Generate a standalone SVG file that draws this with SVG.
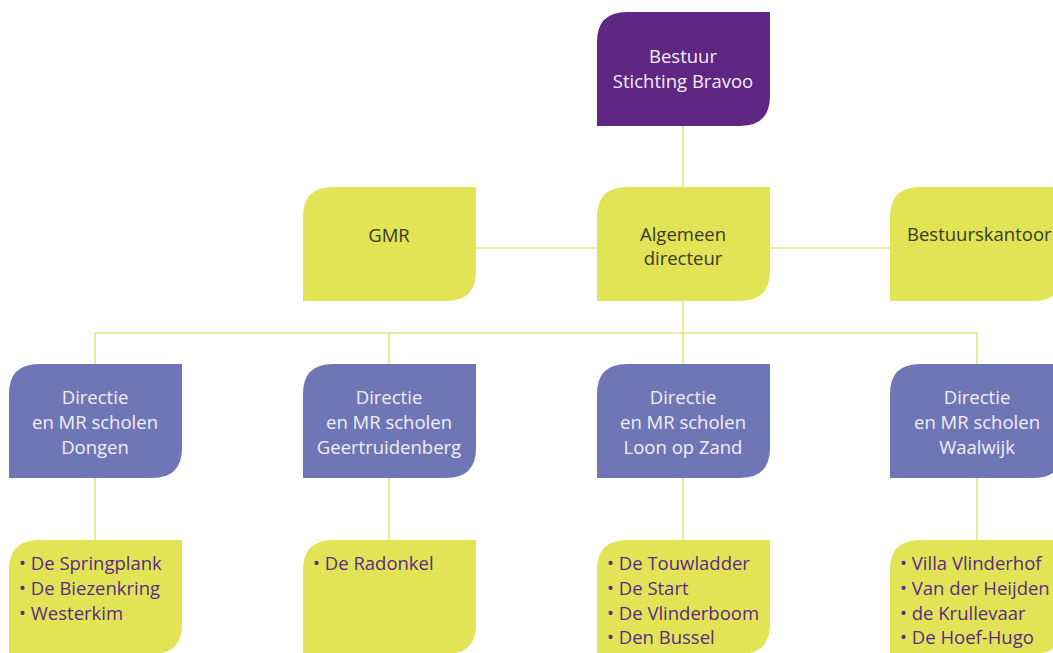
<svg xmlns="http://www.w3.org/2000/svg" width="1053" height="653" viewBox="0 0 1053 653">
<style>
.lime{fill:#e0e455}
.purple{fill:#5f2683}
.blue{fill:#6e76b6}
.conn line{stroke:#e4e67c;stroke-width:1.6}
text{font-family:"Open Sans","Noto Sans",sans-serif;font-size:18.5px}
.c{text-anchor:middle}
.w{fill:#f2eef6}
.d{fill:#3a3a28}
.l{fill:#5b2a86}
</style>
<defs>
<path id="box" d="M0,114 V30 Q0,0 30,0 H173 V84 Q173,114 143,114 Z"/>
</defs>
<rect width="1053" height="653" fill="#fff"/>
<g class="conn">
<line x1="683" y1="126" x2="683" y2="187"/>
<line x1="475" y1="248" x2="597" y2="248"/>
<line x1="770" y1="248" x2="890" y2="248"/>
<line x1="683" y1="301" x2="683" y2="364"/>
<line x1="95" y1="333" x2="977" y2="333"/>
<line x1="95" y1="333" x2="95" y2="364"/>
<line x1="389" y1="333" x2="389" y2="364"/>
<line x1="977" y1="333" x2="977" y2="364"/>
<line x1="95" y1="478" x2="95" y2="540"/>
<line x1="389" y1="478" x2="389" y2="540"/>
<line x1="683" y1="478" x2="683" y2="540"/>
<line x1="977" y1="478" x2="977" y2="540"/>
</g>
<g id="bestuur"><use href="#box" x="597" y="12" class="purple"/>
<text class="c w" x="683" y="63">Bestuur</text><text class="c w" x="683" y="88">Stichting Bravoo</text></g>
<g id="gmr"><use href="#box" x="303" y="187" class="lime"/>
<text class="c d" x="389" y="242">GMR</text></g>
<g id="algemeen"><use href="#box" x="597" y="187" class="lime"/>
<text class="c d" x="683" y="241">Algemeen</text><text class="c d" x="683" y="265">directeur</text></g>
<g id="bestuurskantoor"><use href="#box" x="890" y="187" class="lime"/>
<text class="d" x="907" y="241">Bestuurskantoor</text></g>
<g id="dir-dongen"><use href="#box" x="9" y="364" class="blue"/>
<text class="c w" x="95" y="404">Directie</text><text class="c w" x="95" y="429">en MR scholen</text><text class="c w" x="95" y="454">Dongen</text></g>
<g id="dir-geertruidenberg"><use href="#box" x="303" y="364" class="blue"/>
<text class="c w" x="389" y="404">Directie</text><text class="c w" x="389" y="429">en MR scholen</text><text class="c w" x="389" y="454">Geertruidenberg</text></g>
<g id="dir-loon"><use href="#box" x="597" y="364" class="blue"/>
<text class="c w" x="683" y="404">Directie</text><text class="c w" x="683" y="429">en MR scholen</text><text class="c w" x="683" y="454">Loon op Zand</text></g>
<g id="dir-waalwijk"><use href="#box" x="890" y="364" class="blue"/>
<text class="c w" x="977" y="404">Directie</text><text class="c w" x="977" y="429">en MR scholen</text><text class="c w" x="977" y="454">Waalwijk</text></g>
<g id="scholen-dongen"><use href="#box" x="9" y="540" class="lime"/>
<text class="l" x="19" y="570">• De Springplank</text><text class="l" x="19" y="595">• De Biezenkring</text><text class="l" x="19" y="620">• Westerkim</text></g>
<g id="scholen-geertruidenberg"><use href="#box" x="303" y="540" class="lime"/>
<text class="l" x="313" y="570">• De Radonkel</text></g>
<g id="scholen-loon"><use href="#box" x="597" y="540" class="lime"/>
<text class="l" x="607" y="570">• De Touwladder</text><text class="l" x="607" y="595">• De Start</text><text class="l" x="607" y="620">• De Vlinderboom</text><text class="l" x="607" y="644">• Den Bussel</text></g>
<g id="scholen-waalwijk"><use href="#box" x="890" y="540" class="lime"/>
<text class="l" x="900" y="570">• Villa Vlinderhof</text><text class="l" x="900" y="595">• Van der Heijden</text><text class="l" x="900" y="620">• de Krullevaar</text><text class="l" x="900" y="644">• De Hoef-Hugo</text></g>
</svg>
